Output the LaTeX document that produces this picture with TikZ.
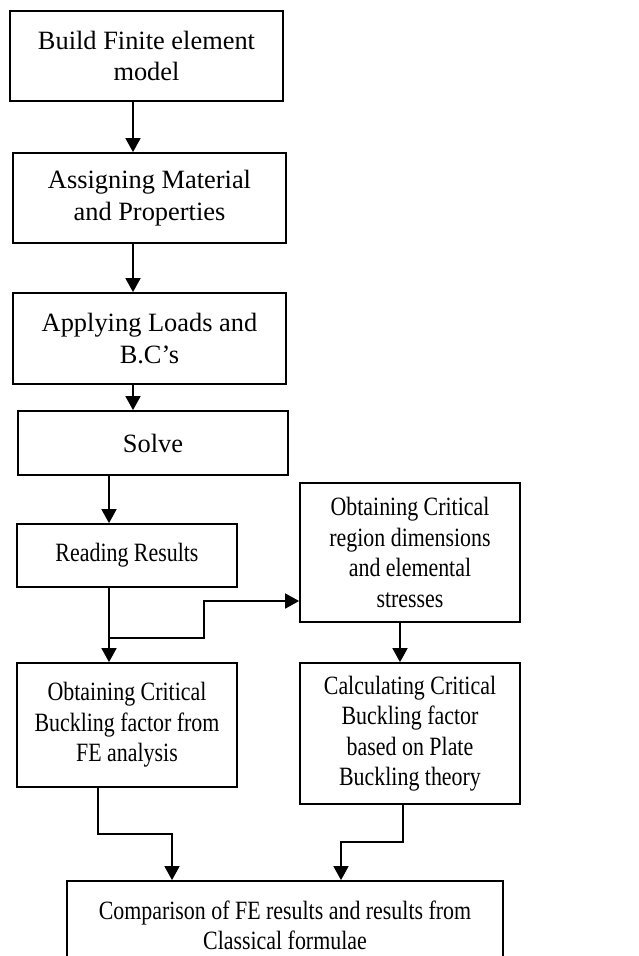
\documentclass[tikz,border=0pt]{standalone}
\usepackage{fontspec}
\setmainfont{Liberation Serif}
\newfontfamily\condfont[FakeStretch=0.83]{Liberation Serif}
\usetikzlibrary{arrows.meta}
\begin{document}
\begin{tikzpicture}[x=1pt,y=-1pt,
 box/.style={draw, line width=1.8pt, align=center, inner sep=0pt, font=\fontsize{26.4}{31.5}\selectfont},
 cbox/.style={box, font=\condfont\fontsize{26.4}{30.5}\selectfont},
 arr/.style={line width=1.8pt, -{Triangle[width=15pt,length=14pt]}}]
\useasboundingbox (0,0) rectangle (638,956);
\clip (0,0) rectangle (638,956);
\fill[white] (0,0) rectangle (638,956);
\node[box, minimum width=273pt, minimum height=90pt] (b1) at (146.5,56) {Build Finite element\\model};
\node[box, minimum width=273pt, minimum height=90pt] (b2) at (149.5,198) {Assigning Material\\and Properties};
\node[box, minimum width=273pt, minimum height=91pt] (b3) at (149.5,338.5) {Applying Loads and\\B.C’s};
\node[box, minimum width=270pt, minimum height=64pt] (b4) at (153,443) {Solve};
\node[cbox, minimum width=220pt, minimum height=63pt] (b5) at (127,555.5) {Reading Results};
\node[cbox, minimum width=220pt, minimum height=139pt] (b6) at (410,552.5) {Obtaining Critical\\region dimensions\\and elemental\\stresses};
\node[cbox, minimum width=220pt, minimum height=124pt] (b7) at (127,725) {Obtaining Critical\\Buckling factor from\\FE analysis};
\node[cbox, minimum width=220pt, minimum height=141pt] (b8) at (410,733.5) {Calculating Critical\\Buckling factor\\based on Plate\\Buckling theory};
\node[cbox, minimum width=436pt, minimum height=89pt] (b9) at (285,925.5) {Comparison of FE results and results from\\Classical formulae};
\coordinate (br) at (109,638);
\draw[arr] (b1.south -| 133,0) -- (b2.north -| 133,0);
\draw[arr] (b2.south -| 133,0) -- (b3.north -| 133,0);
\draw[arr] (b3.south -| 133,0) -- (b4.north -| 133,0);
\draw[arr] (b4.south -| 109,0) -- (b5.north -| 109,0);
\draw[arr] (b5.south -| 109,0) -- (b7.north -| 109,0);
\draw[arr] (br) -- (204,638) -- (204,601) -- (b6.west |- 0,601);
\draw[arr] (b6.south -| 400,0) -- (b8.north -| 400,0);
\draw[arr] (b7.south -| 98,0) -- (98,834) -- (172,834) -- (b9.north -| 172,0);
\draw[arr] (b8.south -| 403,0) -- (403,842) -- (341,842) -- (b9.north -| 341,0);
\end{tikzpicture}
\end{document}
